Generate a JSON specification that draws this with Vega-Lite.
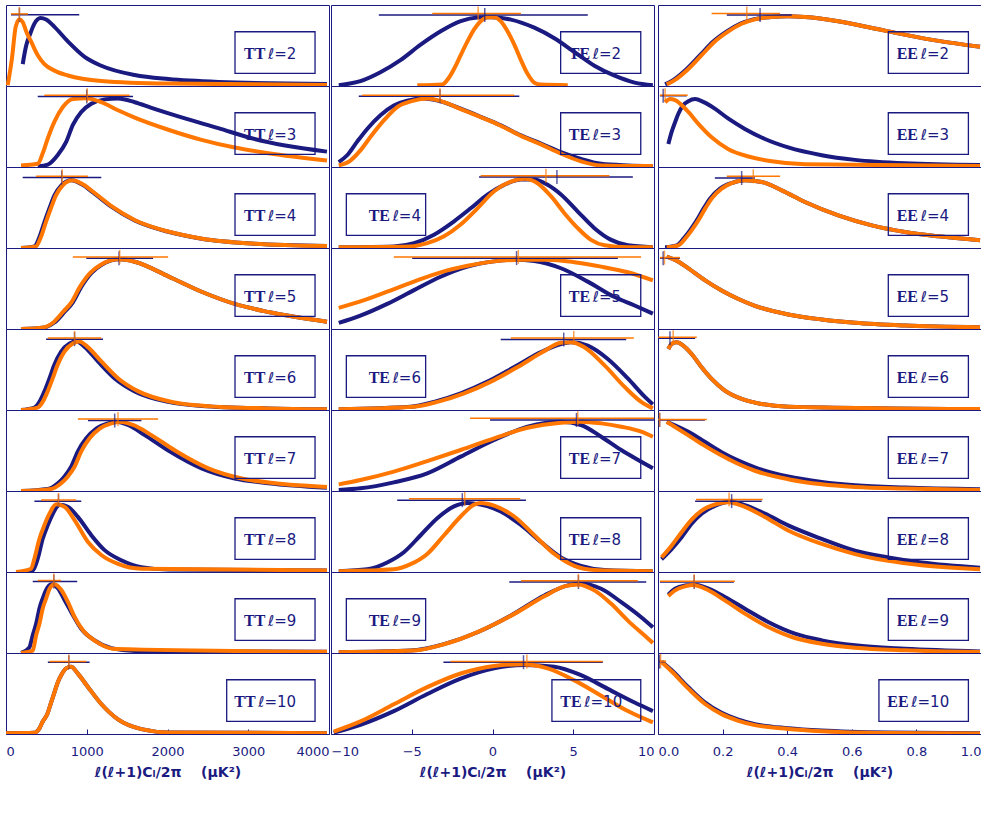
{
"$schema":"https://vega.github.io/schema/vega-lite/v6.json",
"padding":{"top":4,"left":5,"right":5,"bottom":5},
"background":"white",
"config":{"view":{"stroke":"#1a1a80","strokeWidth":1},
"axis":{"labelColor":"#1a1a80","titleColor":"#1a1a80","labelFont":"DejaVu Sans","labelFontSize":13,"titleFont":"DejaVu Sans","titleFontSize":14,"titleFontWeight":"bold","tickColor":"#1a1a80","domain":false,"grid":false,"labelFlush":true,"labelOverlap":false,"labelBound":false},
"facet":{"spacing":0},"concat":{"spacing":0}},
"data":{"values":[
{"k":"L","s":"TT","l":2,"c":"n","x":[207,248,302,352,427,497,600,766,973,1180,1594,2010,2632,3975],"y":[0.27,0.49,0.65,0.77,0.84,0.82,0.73,0.55,0.36,0.25,0.135,0.085,0.05,0.025]},
{"k":"L","s":"TT","l":2,"c":"o","x":[21,75,120,166,207,248,310,393,476,600,766,1180,2010,3975],"y":[0.01,0.35,0.73,0.82,0.79,0.68,0.55,0.38,0.27,0.19,0.13,0.063,0.03,0.013]},
{"k":"L","s":"TT","l":3,"c":"n","x":[393,518,642,745,828,932,1056,1222,1387,1594,1801,2216,2629,3043,3457,3975],"y":[0.01,0.03,0.15,0.31,0.52,0.68,0.78,0.835,0.845,0.8,0.73,0.6,0.48,0.355,0.265,0.19]},
{"k":"L","s":"TT","l":3,"c":"o","x":[186,393,455,518,600,704,828,994,1180,1387,1594,2010,2422,2832,3250,3975],"y":[0.02,0.04,0.17,0.355,0.56,0.74,0.84,0.85,0.8,0.7,0.61,0.46,0.335,0.24,0.17,0.08]},
{"k":"L","s":"TT","l":4,"c":"n","x":[186,352,414,476,538,600,683,807,932,1097,1304,1594,2010,2422,3043,3975],"y":[0,0.02,0.135,0.32,0.49,0.65,0.77,0.835,0.79,0.67,0.51,0.34,0.2,0.115,0.055,0.025]},
{"k":"L","s":"TT","l":4,"c":"o","x":[186,370,432,494,556,618,700,820,945,1110,1315,1605,2020,2430,3050,3975],"y":[0,0.02,0.135,0.32,0.49,0.65,0.77,0.835,0.79,0.67,0.51,0.34,0.2,0.115,0.055,0.025]},
{"k":"L","s":"TT","l":5,"c":"n","x":[186,476,600,725,828,932,1056,1180,1408,1594,2010,2422,2832,3250,3975],"y":[0,0.02,0.08,0.21,0.33,0.52,0.69,0.79,0.86,0.83,0.65,0.46,0.31,0.21,0.09]},
{"k":"L","s":"TT","l":5,"c":"o","x":[186,466,585,705,810,915,1040,1170,1400,1594,2010,2422,2832,3250,3975],"y":[0,0.02,0.08,0.21,0.33,0.52,0.69,0.79,0.86,0.83,0.65,0.46,0.31,0.21,0.09]},
{"k":"L","s":"TT","l":6,"c":"n","x":[186,352,414,476,538,600,683,787,870,973,1139,1346,1594,2010,2422,3250,3975],"y":[0,0.03,0.1,0.23,0.39,0.56,0.72,0.82,0.845,0.78,0.6,0.39,0.23,0.1,0.05,0.02,0.01]},
{"k":"L","s":"TT","l":6,"c":"o","x":[186,392,454,516,578,640,723,827,905,1010,1180,1390,1640,2050,2460,3250,3975],"y":[0,0.03,0.1,0.23,0.39,0.56,0.72,0.82,0.845,0.78,0.6,0.39,0.23,0.1,0.05,0.02,0.01]},
{"k":"L","s":"TT","l":7,"c":"n","x":[186,518,642,725,807,890,994,1118,1263,1366,1511,1718,2010,2422,2832,3250,3975],"y":[0,0.025,0.095,0.18,0.3,0.49,0.65,0.77,0.835,0.855,0.815,0.69,0.5,0.28,0.155,0.095,0.04]},
{"k":"L","s":"TT","l":7,"c":"o","x":[186,560,683,766,849,932,1035,1160,1304,1408,1573,1801,2093,2505,2920,3333,3975],"y":[0,0.025,0.095,0.18,0.3,0.49,0.65,0.77,0.835,0.855,0.815,0.69,0.5,0.28,0.155,0.095,0.05]},
{"k":"L","s":"TT","l":8,"c":"n","x":[186,331,393,455,518,580,663,766,890,1056,1221,1428,1677,2010,3975],"y":[0,0.02,0.165,0.41,0.58,0.72,0.83,0.805,0.68,0.455,0.27,0.145,0.06,0.03,0.02]},
{"k":"L","s":"TT","l":8,"c":"o","x":[124,310,352,414,476,538,621,725,849,1015,1180,1387,1677,3975],"y":[0,0.04,0.165,0.41,0.58,0.72,0.835,0.805,0.64,0.37,0.21,0.1,0.04,0.02]},
{"k":"L","s":"TT","l":9,"c":"n","x":[186,290,331,373,414,455,497,559,642,725,828,932,1097,1304,1594,3975],"y":[0,0.07,0.22,0.36,0.55,0.675,0.78,0.85,0.8,0.655,0.47,0.3,0.155,0.06,0.025,0.015]},
{"k":"L","s":"TT","l":9,"c":"o","x":[186,331,373,414,455,497,538,600,683,766,849,952,1118,1346,3975],"y":[0,0.03,0.22,0.36,0.55,0.675,0.79,0.85,0.78,0.63,0.445,0.28,0.14,0.05,0.015]},
{"k":"L","s":"TT","l":10,"c":"n","x":[0,352,414,455,509,559,600,642,683,745,807,890,1015,1180,1387,1677,2010,3975],"y":[0.01,0.015,0.07,0.155,0.24,0.39,0.515,0.64,0.725,0.81,0.83,0.745,0.58,0.37,0.18,0.06,0.02,0.01]},
{"k":"L","s":"TT","l":10,"c":"o","x":[0,352,414,455,509,559,600,642,683,745,807,890,1015,1180,1387,1677,2010,3975],"y":[0.01,0.015,0.07,0.155,0.24,0.39,0.515,0.64,0.725,0.81,0.83,0.745,0.58,0.37,0.18,0.06,0.02,0.01]},
{"k":"L","s":"TE","l":2,"c":"n","x":[-9.52,-8.18,-6.94,-5.7,-4.45,-3.21,-1.97,-0.93,-0.1,1.14,2.59,3.83,5.07,6.31,7.56,8.8,9.93],"y":[0.01,0.06,0.17,0.32,0.51,0.675,0.8,0.845,0.85,0.82,0.72,0.59,0.42,0.25,0.127,0.042,0.01]},
{"k":"L","s":"TE","l":2,"c":"o","x":[-4.66,-3.11,-2.69,-2.28,-1.97,-1.55,-1.14,-0.73,-0.31,0.1,0.51,0.93,1.35,1.76,2.17,2.59,3.0,4.66],"y":[0.01,0.02,0.105,0.25,0.38,0.55,0.7,0.8,0.85,0.85,0.8,0.675,0.51,0.32,0.15,0.04,0.017,0.01]},
{"k":"L","s":"TE","l":3,"c":"n","x":[-9.52,-9.0,-8.39,-7.76,-6.94,-6.11,-5.28,-4.24,-3.21,-1.97,-0.73,0.51,1.76,3.0,4.24,5.48,6.73,8.38,9.93],"y":[0.06,0.145,0.31,0.47,0.64,0.76,0.82,0.845,0.81,0.72,0.62,0.515,0.39,0.29,0.185,0.1,0.04,0.02,0.012]},
{"k":"L","s":"TE","l":3,"c":"o","x":[-9.52,-8.8,-8.18,-7.56,-6.73,-5.9,-5.07,-4.04,-3.0,-1.97,-0.73,0.51,1.76,3.0,4.24,5.48,6.73,9.93],"y":[0.02,0.08,0.205,0.37,0.575,0.74,0.81,0.845,0.8,0.715,0.615,0.51,0.385,0.28,0.165,0.07,0.02,0.012]},
{"k":"L","s":"TE","l":4,"c":"n","x":[-9.52,-6.11,-4.86,-3.62,-2.38,-1.35,-0.31,0.72,1.76,2.59,3.41,4.24,5.28,6.31,7.35,8.38,9.93],"y":[0.01,0.02,0.06,0.165,0.33,0.49,0.66,0.78,0.845,0.845,0.78,0.66,0.45,0.245,0.1,0.033,0.01]},
{"k":"L","s":"TE","l":4,"c":"o","x":[-9.52,-5.07,-4.04,-3.0,-1.97,-0.93,0.1,1.14,1.97,2.79,3.62,4.45,5.28,6.1,6.94,8.38,9.93],"y":[0.01,0.02,0.06,0.145,0.29,0.49,0.7,0.82,0.855,0.8,0.64,0.43,0.245,0.1,0.033,0.01,0.01]},
{"k":"L","s":"TE","l":5,"c":"n","x":[-9.52,-8.18,-6.52,-4.86,-3.21,-1.55,0.1,1.35,2.59,4.24,5.9,7.56,8.8,9.93],"y":[0.075,0.165,0.31,0.48,0.645,0.77,0.835,0.855,0.84,0.75,0.585,0.395,0.29,0.19]},
{"k":"L","s":"TE","l":5,"c":"o","x":[-9.52,-8.18,-6.52,-4.86,-3.21,-1.55,0.1,1.76,3.41,5.07,6.73,8.38,9.93],"y":[0.26,0.34,0.46,0.585,0.7,0.78,0.835,0.855,0.855,0.825,0.77,0.7,0.6]},
{"k":"L","s":"TE","l":6,"c":"n","x":[-9.52,-5.07,-3.62,-1.97,-0.31,1.35,3.0,4.24,4.86,5.9,7.14,8.38,9.42,9.93],"y":[0.01,0.04,0.1,0.205,0.35,0.53,0.715,0.815,0.835,0.795,0.63,0.39,0.165,0.07]},
{"k":"L","s":"TE","l":6,"c":"o","x":[-9.52,-4.9,-3.41,-1.76,-0.1,1.55,3.1,4.24,4.86,5.69,6.94,8.18,9.21,9.93],"y":[0.01,0.04,0.1,0.205,0.35,0.53,0.715,0.83,0.837,0.775,0.55,0.285,0.1,0.02]},
{"k":"L","s":"TE","l":7,"c":"n","x":[-9.52,-8.18,-6.11,-4.04,-1.97,0.1,2.17,4.24,5.48,6.73,7.97,9.21,9.93],"y":[0.012,0.033,0.107,0.218,0.424,0.63,0.794,0.856,0.815,0.67,0.506,0.362,0.28]},
{"k":"L","s":"TE","l":7,"c":"o","x":[-9.52,-8.18,-6.11,-4.04,-1.97,0.1,2.17,4.24,5.48,6.73,7.97,9.21,9.93],"y":[0.082,0.136,0.24,0.37,0.506,0.65,0.78,0.844,0.856,0.835,0.794,0.733,0.67]},
{"k":"L","s":"TE","l":8,"c":"n","x":[-9.52,-7.76,-6.52,-5.49,-4.45,-3.42,-2.38,-1.55,-0.73,0.51,1.76,3.0,4.24,5.48,6.94,9.93],"y":[0.01,0.034,0.118,0.244,0.454,0.664,0.81,0.853,0.832,0.748,0.58,0.37,0.18,0.076,0.025,0.01]},
{"k":"L","s":"TE","l":8,"c":"o","x":[-9.52,-6.11,-5.07,-4.04,-3.0,-1.97,-1.14,-0.73,0.1,1.35,2.59,3.83,5.07,6.31,9.93],"y":[0.01,0.034,0.097,0.223,0.454,0.685,0.832,0.853,0.82,0.685,0.454,0.223,0.076,0.025,0.01]},
{"k":"L","s":"TE","l":9,"c":"n","x":[-9.52,-5.07,-3.0,-0.93,1.14,3.21,4.66,5.48,6.73,7.97,9.21,9.93],"y":[0.01,0.03,0.11,0.256,0.463,0.71,0.835,0.855,0.793,0.628,0.442,0.318]},
{"k":"L","s":"TE","l":9,"c":"o","x":[-9.52,-4.9,-2.79,-0.72,1.35,3.21,4.45,5.28,6.31,7.35,8.38,9.42,9.93],"y":[0.01,0.03,0.12,0.277,0.483,0.7,0.822,0.847,0.773,0.607,0.4,0.215,0.124]},
{"k":"L","s":"TE","l":10,"c":"n","x":[-9.83,-8.18,-6.11,-4.04,-1.97,0.1,1.97,3.83,5.48,7.14,8.8,9.93],"y":[0.017,0.114,0.283,0.494,0.684,0.81,0.852,0.831,0.726,0.557,0.388,0.283]},
{"k":"L","s":"TE","l":10,"c":"o","x":[-9.83,-8.18,-6.11,-4.04,-1.97,0.1,1.76,3.41,5.07,6.73,8.38,9.93],"y":[0.03,0.156,0.367,0.578,0.747,0.84,0.861,0.81,0.662,0.473,0.283,0.143]},
{"k":"L","s":"EE","l":2,"c":"n","x":[0.022,0.048,0.089,0.13,0.171,0.213,0.254,0.295,0.352,0.403,0.455,0.558,0.662,0.765,0.868,0.997],"y":[0.02,0.076,0.21,0.38,0.55,0.675,0.768,0.823,0.852,0.861,0.852,0.8,0.717,0.633,0.557,0.485]},
{"k":"L","s":"EE","l":2,"c":"o","x":[0.027,0.053,0.094,0.135,0.176,0.218,0.259,0.3,0.352,0.403,0.455,0.558,0.662,0.765,0.868,0.997],"y":[0.02,0.076,0.21,0.38,0.55,0.675,0.768,0.823,0.852,0.861,0.852,0.8,0.717,0.633,0.557,0.485]},
{"k":"L","s":"EE","l":3,"c":"n","x":[0.032,0.042,0.053,0.063,0.078,0.094,0.115,0.14,0.176,0.218,0.269,0.331,0.403,0.507,0.61,0.765,0.997],"y":[0.283,0.43,0.554,0.658,0.763,0.813,0.838,0.804,0.72,0.596,0.47,0.346,0.242,0.146,0.088,0.046,0.025]},
{"k":"L","s":"EE","l":3,"c":"o","x":[0.022,0.037,0.053,0.068,0.094,0.125,0.166,0.218,0.28,0.352,0.455,0.997],"y":[0.8,0.838,0.825,0.783,0.68,0.533,0.367,0.22,0.13,0.07,0.033,0.0125]},
{"k":"L","s":"EE","l":4,"c":"n","x":[0.022,0.058,0.079,0.099,0.12,0.141,0.161,0.192,0.228,0.269,0.321,0.383,0.455,0.558,0.662,0.765,0.868,0.997],"y":[0.008,0.033,0.115,0.218,0.342,0.486,0.609,0.733,0.802,0.835,0.815,0.712,0.568,0.403,0.28,0.198,0.144,0.095]},
{"k":"L","s":"EE","l":4,"c":"o","x":[0.027,0.063,0.084,0.104,0.125,0.146,0.166,0.197,0.228,0.269,0.321,0.383,0.455,0.558,0.662,0.765,0.868,0.997],"y":[0.008,0.033,0.115,0.218,0.342,0.486,0.609,0.733,0.802,0.835,0.815,0.712,0.568,0.403,0.28,0.198,0.144,0.095]},
{"k":"L","s":"EE","l":5,"c":"n","x":[0.027,0.053,0.094,0.146,0.197,0.249,0.3,0.403,0.507,0.61,0.765,0.997],"y":[0.895,0.853,0.748,0.6,0.475,0.37,0.286,0.18,0.118,0.076,0.042,0.021]},
{"k":"L","s":"EE","l":5,"c":"o","x":[0.027,0.053,0.094,0.146,0.197,0.249,0.3,0.403,0.507,0.61,0.765,0.997],"y":[0.895,0.853,0.748,0.6,0.475,0.37,0.286,0.18,0.118,0.076,0.042,0.021]},
{"k":"L","s":"EE","l":6,"c":"n","x":[0.032,0.042,0.058,0.078,0.104,0.135,0.166,0.207,0.259,0.321,0.403,0.997],"y":[0.753,0.815,0.835,0.794,0.691,0.527,0.383,0.239,0.136,0.074,0.041,0.012]},
{"k":"L","s":"EE","l":6,"c":"o","x":[0.032,0.042,0.058,0.078,0.104,0.135,0.166,0.207,0.259,0.321,0.403,0.997],"y":[0.753,0.815,0.835,0.794,0.691,0.527,0.383,0.239,0.136,0.074,0.041,0.012]},
{"k":"L","s":"EE","l":7,"c":"n","x":[0.027,0.094,0.146,0.197,0.249,0.3,0.403,0.507,0.61,0.765,0.997],"y":[0.854,0.73,0.604,0.479,0.375,0.292,0.179,0.1125,0.071,0.042,0.021]},
{"k":"L","s":"EE","l":7,"c":"o","x":[0.027,0.094,0.146,0.197,0.249,0.3,0.403,0.507,0.61,0.765,0.997],"y":[0.854,0.687,0.554,0.4375,0.333,0.25,0.146,0.083,0.05,0.03,0.0125]},
{"k":"L","s":"EE","l":8,"c":"n","x":[0.011,0.042,0.073,0.104,0.135,0.176,0.223,0.269,0.331,0.403,0.507,0.61,0.713,0.816,0.997],"y":[0.158,0.283,0.429,0.596,0.72,0.817,0.867,0.825,0.72,0.575,0.408,0.2625,0.179,0.117,0.054]},
{"k":"L","s":"EE","l":8,"c":"o","x":[0.011,0.042,0.073,0.104,0.135,0.176,0.218,0.269,0.331,0.403,0.507,0.61,0.713,0.816,0.997],"y":[0.18,0.325,0.49,0.646,0.758,0.833,0.862,0.804,0.679,0.5125,0.346,0.221,0.1375,0.083,0.033]},
{"k":"L","s":"EE","l":9,"c":"n","x":[0.032,0.053,0.084,0.115,0.156,0.207,0.269,0.341,0.424,0.507,0.61,0.765,0.997],"y":[0.72,0.794,0.835,0.844,0.794,0.691,0.547,0.383,0.239,0.156,0.095,0.053,0.02]},
{"k":"L","s":"EE","l":9,"c":"o","x":[0.032,0.053,0.084,0.108,0.156,0.207,0.269,0.341,0.424,0.507,0.61,0.765,0.997],"y":[0.704,0.774,0.823,0.84,0.774,0.65,0.486,0.321,0.185,0.115,0.066,0.033,0.012]},
{"k":"L","s":"EE","l":10,"c":"n","x":[0.011,0.042,0.094,0.146,0.197,0.249,0.3,0.403,0.507,0.713,0.997],"y":[0.895,0.789,0.578,0.388,0.262,0.177,0.122,0.072,0.042,0.017,0.008]},
{"k":"L","s":"EE","l":10,"c":"o","x":[0.011,0.042,0.094,0.146,0.197,0.249,0.3,0.403,0.507,0.713,0.997],"y":[0.89,0.775,0.56,0.37,0.245,0.163,0.11,0.063,0.035,0.012,0.005]},
{"k":"C","s":"TT","l":2,"c":"n","lo":62,"hi":907,"m":166,"y":0.88},
{"k":"C","s":"TT","l":2,"c":"o","lo":62,"hi":273,"m":166,"y":0.89},
{"k":"C","s":"TT","l":3,"c":"n","lo":393,"hi":1573,"m":1000,"y":0.87},
{"k":"C","s":"TT","l":3,"c":"o","lo":474,"hi":1530,"m":1006,"y":0.885},
{"k":"C","s":"TT","l":4,"c":"n","lo":207,"hi":1180,"m":690,"y":0.87},
{"k":"C","s":"TT","l":4,"c":"o","lo":373,"hi":1015,"m":696,"y":0.885},
{"k":"C","s":"TT","l":5,"c":"n","lo":994,"hi":1822,"m":1400,"y":0.875},
{"k":"C","s":"TT","l":5,"c":"o","lo":828,"hi":2008,"m":1408,"y":0.89},
{"k":"C","s":"TT","l":6,"c":"n","lo":497,"hi":1201,"m":849,"y":0.875},
{"k":"C","s":"TT","l":6,"c":"o","lo":518,"hi":1180,"m":849,"y":0.89},
{"k":"C","s":"TT","l":7,"c":"n","lo":1015,"hi":1677,"m":1346,"y":0.87},
{"k":"C","s":"TT","l":7,"c":"o","lo":890,"hi":1884,"m":1387,"y":0.89},
{"k":"C","s":"TT","l":8,"c":"n","lo":352,"hi":932,"m":650,"y":0.875},
{"k":"C","s":"TT","l":8,"c":"o","lo":435,"hi":870,"m":650,"y":0.89},
{"k":"C","s":"TT","l":9,"c":"n","lo":331,"hi":882,"m":592,"y":0.883},
{"k":"C","s":"TT","l":9,"c":"o","lo":393,"hi":683,"m":592,"y":0.895},
{"k":"C","s":"TT","l":10,"c":"n","lo":518,"hi":1035,"m":778,"y":0.886},
{"k":"C","s":"TT","l":10,"c":"o","lo":538,"hi":994,"m":778,"y":0.895},
{"k":"C","s":"TE","l":2,"c":"n","lo":-7.04,"hi":5.9,"m":-0.48,"y":0.877},
{"k":"C","s":"TE","l":2,"c":"o","lo":-3.73,"hi":1.76,"m":-0.89,"y":0.895},
{"k":"C","s":"TE","l":3,"c":"n","lo":-8.28,"hi":1.66,"m":-3.25,"y":0.872},
{"k":"C","s":"TE","l":3,"c":"o","lo":-8.07,"hi":1.35,"m":-3.25,"y":0.885},
{"k":"C","s":"TE","l":4,"c":"n","lo":-0.83,"hi":8.69,"m":3.99,"y":0.877},
{"k":"C","s":"TE","l":4,"c":"o","lo":-0.73,"hi":7.24,"m":3.31,"y":0.893},
{"k":"C","s":"TE","l":5,"c":"n","lo":-4.97,"hi":7.76,"m":1.49,"y":0.875},
{"k":"C","s":"TE","l":5,"c":"o","lo":-6.11,"hi":9.2,"m":1.6,"y":0.89},
{"k":"C","s":"TE","l":6,"c":"n","lo":0.51,"hi":8.28,"m":4.41,"y":0.87},
{"k":"C","s":"TE","l":6,"c":"o","lo":1.14,"hi":8.75,"m":5.03,"y":0.89},
{"k":"C","s":"TE","l":7,"c":"n","lo":-0.15,"hi":10,"m":5.2,"y":0.877},
{"k":"C","s":"TE","l":7,"c":"o","lo":-1.39,"hi":10,"m":5.28,"y":0.897},
{"k":"C","s":"TE","l":8,"c":"n","lo":-5.9,"hi":2.07,"m":-1.87,"y":0.887},
{"k":"C","s":"TE","l":8,"c":"o","lo":-5.17,"hi":1.72,"m":-1.72,"y":0.903},
{"k":"C","s":"TE","l":9,"c":"n","lo":1.04,"hi":9.52,"m":5.32,"y":0.876},
{"k":"C","s":"TE","l":9,"c":"o","lo":1.76,"hi":9.0,"m":5.32,"y":0.893},
{"k":"C","s":"TE","l":10,"c":"n","lo":-3.04,"hi":6.83,"m":1.92,"y":0.886},
{"k":"C","s":"TE","l":10,"c":"o","lo":-2.59,"hi":6.83,"m":2.13,"y":0.895},
{"k":"C","s":"EE","l":2,"c":"n","lo":0.213,"hi":0.414,"m":0.316,"y":0.878},
{"k":"C","s":"EE","l":2,"c":"o","lo":0.166,"hi":0.378,"m":0.275,"y":0.895},
{"k":"C","s":"EE","l":3,"c":"n","lo":0.006,"hi":0.089,"m":0.016,"y":0.88},
{"k":"C","s":"EE","l":3,"c":"o","lo":0.006,"hi":0.092,"m":0.022,"y":0.887},
{"k":"C","s":"EE","l":4,"c":"n","lo":0.176,"hi":0.3,"m":0.259,"y":0.864},
{"k":"C","s":"EE","l":4,"c":"o","lo":0.213,"hi":0.378,"m":0.295,"y":0.885},
{"k":"C","s":"EE","l":5,"c":"n","lo":0.006,"hi":0.068,"m":0.016,"y":0.875},
{"k":"C","s":"EE","l":5,"c":"o","lo":0.006,"hi":0.068,"m":0.02,"y":0.882},
{"k":"C","s":"EE","l":6,"c":"n","lo":0.001,"hi":0.115,"m":0.037,"y":0.885},
{"k":"C","s":"EE","l":6,"c":"o","lo":0.001,"hi":0.12,"m":0.047,"y":0.897},
{"k":"C","s":"EE","l":7,"c":"n","lo":0,"hi":0.145,"m":0.005,"y":0.877},
{"k":"C","s":"EE","l":7,"c":"o","lo":0,"hi":0.151,"m":0.005,"y":0.883},
{"k":"C","s":"EE","l":8,"c":"n","lo":0.115,"hi":0.321,"m":0.228,"y":0.875},
{"k":"C","s":"EE","l":8,"c":"o","lo":0.118,"hi":0.324,"m":0.22,"y":0.896},
{"k":"C","s":"EE","l":9,"c":"n","lo":0.006,"hi":0.235,"m":0.112,"y":0.877},
{"k":"C","s":"EE","l":9,"c":"o","lo":0.006,"hi":0.238,"m":0.112,"y":0.885},
{"k":"C","s":"EE","l":10,"c":"n","lo":0.003,"hi":0.02,"m":0.005,"y":0.893},
{"k":"C","s":"EE","l":10,"c":"o","lo":0.003,"hi":0.025,"m":0.008,"y":0.9},
{"k":"B","s":"TT","l":2,"x1":2836,"x2":3827,"tx":2947,"t":"ℓ=2"},
{"k":"B","s":"TT","l":3,"x1":2836,"x2":3827,"tx":2947,"t":"ℓ=3"},
{"k":"B","s":"TT","l":4,"x1":2836,"x2":3827,"tx":2947,"t":"ℓ=4"},
{"k":"B","s":"TT","l":5,"x1":2836,"x2":3827,"tx":2947,"t":"ℓ=5"},
{"k":"B","s":"TT","l":6,"x1":2836,"x2":3827,"tx":2947,"t":"ℓ=6"},
{"k":"B","s":"TT","l":7,"x1":2836,"x2":3827,"tx":2947,"t":"ℓ=7"},
{"k":"B","s":"TT","l":8,"x1":2836,"x2":3827,"tx":2947,"t":"ℓ=8"},
{"k":"B","s":"TT","l":9,"x1":2836,"x2":3827,"tx":2947,"t":"ℓ=9"},
{"k":"B","s":"TT","l":10,"x1":2733,"x2":3827,"tx":2827,"t":"ℓ=10"},
{"k":"B","s":"TE","l":2,"x1":4.22,"x2":9.18,"tx":4.72,"t":"ℓ=2"},
{"k":"B","s":"TE","l":3,"x1":4.22,"x2":9.18,"tx":4.72,"t":"ℓ=3"},
{"k":"B","s":"TE","l":4,"x1":-9.05,"x2":-4.14,"tx":-7.67,"t":"ℓ=4"},
{"k":"B","s":"TE","l":5,"x1":4.22,"x2":9.18,"tx":4.72,"t":"ℓ=5"},
{"k":"B","s":"TE","l":6,"x1":-9.05,"x2":-4.14,"tx":-7.67,"t":"ℓ=6"},
{"k":"B","s":"TE","l":7,"x1":4.22,"x2":9.18,"tx":4.72,"t":"ℓ=7"},
{"k":"B","s":"TE","l":8,"x1":4.22,"x2":9.18,"tx":4.72,"t":"ℓ=8"},
{"k":"B","s":"TE","l":9,"x1":-9.05,"x2":-4.14,"tx":-7.67,"t":"ℓ=9"},
{"k":"B","s":"TE","l":10,"x1":3.68,"x2":9.18,"tx":4.2,"t":"ℓ=10"},
{"k":"B","s":"EE","l":2,"x1":0.713,"x2":0.961,"tx":0.739,"t":"ℓ=2"},
{"k":"B","s":"EE","l":3,"x1":0.713,"x2":0.961,"tx":0.739,"t":"ℓ=3"},
{"k":"B","s":"EE","l":4,"x1":0.713,"x2":0.961,"tx":0.739,"t":"ℓ=4"},
{"k":"B","s":"EE","l":5,"x1":0.713,"x2":0.961,"tx":0.739,"t":"ℓ=5"},
{"k":"B","s":"EE","l":6,"x1":0.713,"x2":0.961,"tx":0.739,"t":"ℓ=6"},
{"k":"B","s":"EE","l":7,"x1":0.713,"x2":0.961,"tx":0.739,"t":"ℓ=7"},
{"k":"B","s":"EE","l":8,"x1":0.713,"x2":0.961,"tx":0.739,"t":"ℓ=8"},
{"k":"B","s":"EE","l":9,"x1":0.713,"x2":0.961,"tx":0.739,"t":"ℓ=9"},
{"k":"B","s":"EE","l":10,"x1":0.684,"x2":0.961,"tx":0.71,"t":"ℓ=10"}
]},
"spacing":0,
"hconcat":[
{"transform":[{"filter":"datum.s=='TT'"}],
"bounds":"flush",
"facet":{"row":{"field":"l","type":"ordinal","title":null,"header":{"labels":false}}},
"spacing":0,
"spec":{"width":323,"height":81,
"layer":[
{"transform":[{"filter":"datum.k=='L'&&datum.c=='n'"},{"flatten":["x","y"]}],"mark":{"type":"line","color":"#1a1a80","strokeWidth":4,"interpolate":"monotone","clip":true},
"encoding":{"x":{"field":"x","type":"quantitative","scale":{"domain":[0,4000],"nice":false,"zero":false},"title":"ℓ(ℓ+1)Cₗ/2π\u00a0\u00a0\u00a0\u00a0(μK²)","axis":{"values":[0,1000,2000,3000,4000],"format":"d","tickSize":-5,"labelPadding":16,"titlePadding":7}},
"y":{"field":"y","type":"quantitative","scale":{"domain":[0,1],"nice":false},"title":null,"axis":null}}},
{"transform":[{"filter":"datum.k=='L'&&datum.c=='o'"},{"flatten":["x","y"]}],"mark":{"type":"line","color":"#ff7700","strokeWidth":4,"interpolate":"monotone","clip":true},
"encoding":{"x":{"field":"x","type":"quantitative"},"y":{"field":"y","type":"quantitative","axis":null}}},
{"transform":[{"filter":"datum.k=='C'&&datum.c=='n'"}],"mark":{"type":"rule","color":"#1a1a80","strokeWidth":1.5},"encoding":{"x":{"field":"lo","type":"quantitative"},"x2":{"field":"hi"},"y":{"field":"y","type":"quantitative","axis":null}}},
{"transform":[{"filter":"datum.k=='C'&&datum.c=='o'"}],"mark":{"type":"rule","color":"#ff7700","strokeWidth":1.5},"encoding":{"x":{"field":"lo","type":"quantitative"},"x2":{"field":"hi"},"y":{"field":"y","type":"quantitative","axis":null}}},
{"transform":[{"filter":"datum.k=='C'&&datum.c=='n'"}],"mark":{"type":"tick","orient":"vertical","color":"#1a1a80","size":14,"thickness":1.5},"encoding":{"x":{"field":"m","type":"quantitative"},"y":{"field":"y","type":"quantitative","axis":null}}},
{"transform":[{"filter":"datum.k=='C'&&datum.c=='o'"}],"mark":{"type":"tick","orient":"vertical","color":"#ff7700","size":14,"thickness":1.5},"encoding":{"x":{"field":"m","type":"quantitative"},"y":{"field":"y","type":"quantitative","axis":null}}},
{"transform":[{"filter":"datum.k=='B'"}],"mark":{"type":"rect","filled":false,"stroke":"#1a1a80","strokeWidth":1.3},"encoding":{"x":{"field":"x1","type":"quantitative"},"x2":{"field":"x2"},"y":{"datum":0.155,"type":"quantitative","axis":null},"y2":{"datum":0.67}}},
{"transform":[{"filter":"datum.k=='B'"}],"mark":{"type":"text","align":"left","baseline":"middle","font":"Liberation Serif","fontWeight":"bold","fontSize":16,"color":"#1a1a80"},"encoding":{"x":{"field":"tx","type":"quantitative"},"y":{"datum":0.39,"type":"quantitative","axis":null},"text":{"field":"s"}}},
{"transform":[{"filter":"datum.k=='B'"}],"mark":{"type":"text","align":"left","baseline":"middle","font":"DejaVu Sans","fontSize":15,"dx":24,"color":"#1a1a80"},"encoding":{"x":{"field":"tx","type":"quantitative"},"y":{"datum":0.39,"type":"quantitative","axis":null},"text":{"field":"t"}}}
]}},
{"transform":[{"filter":"datum.s=='TE'"}],
"bounds":"flush",
"facet":{"row":{"field":"l","type":"ordinal","title":null,"header":{"labels":false}}},
"spacing":0,
"spec":{"width":323,"height":81,
"layer":[
{"transform":[{"filter":"datum.k=='L'&&datum.c=='n'"},{"flatten":["x","y"]}],"mark":{"type":"line","color":"#1a1a80","strokeWidth":4,"interpolate":"monotone","clip":true},
"encoding":{"x":{"field":"x","type":"quantitative","scale":{"domain":[-10,10],"nice":false,"zero":false},"title":"ℓ(ℓ+1)Cₗ/2π\u00a0\u00a0\u00a0\u00a0(μK²)","axis":{"values":[-10,-5,0,5,10],"format":"d","tickSize":-5,"labelPadding":16,"titlePadding":7}},
"y":{"field":"y","type":"quantitative","scale":{"domain":[0,1],"nice":false},"title":null,"axis":null}}},
{"transform":[{"filter":"datum.k=='L'&&datum.c=='o'"},{"flatten":["x","y"]}],"mark":{"type":"line","color":"#ff7700","strokeWidth":4,"interpolate":"monotone","clip":true},
"encoding":{"x":{"field":"x","type":"quantitative"},"y":{"field":"y","type":"quantitative","axis":null}}},
{"transform":[{"filter":"datum.k=='C'&&datum.c=='n'"}],"mark":{"type":"rule","color":"#1a1a80","strokeWidth":1.5},"encoding":{"x":{"field":"lo","type":"quantitative"},"x2":{"field":"hi"},"y":{"field":"y","type":"quantitative","axis":null}}},
{"transform":[{"filter":"datum.k=='C'&&datum.c=='o'"}],"mark":{"type":"rule","color":"#ff7700","strokeWidth":1.5},"encoding":{"x":{"field":"lo","type":"quantitative"},"x2":{"field":"hi"},"y":{"field":"y","type":"quantitative","axis":null}}},
{"transform":[{"filter":"datum.k=='C'&&datum.c=='n'"}],"mark":{"type":"tick","orient":"vertical","color":"#1a1a80","size":14,"thickness":1.5},"encoding":{"x":{"field":"m","type":"quantitative"},"y":{"field":"y","type":"quantitative","axis":null}}},
{"transform":[{"filter":"datum.k=='C'&&datum.c=='o'"}],"mark":{"type":"tick","orient":"vertical","color":"#ff7700","size":14,"thickness":1.5},"encoding":{"x":{"field":"m","type":"quantitative"},"y":{"field":"y","type":"quantitative","axis":null}}},
{"transform":[{"filter":"datum.k=='B'"}],"mark":{"type":"rect","filled":false,"stroke":"#1a1a80","strokeWidth":1.3},"encoding":{"x":{"field":"x1","type":"quantitative"},"x2":{"field":"x2"},"y":{"datum":0.155,"type":"quantitative","axis":null},"y2":{"datum":0.67}}},
{"transform":[{"filter":"datum.k=='B'"}],"mark":{"type":"text","align":"left","baseline":"middle","font":"Liberation Serif","fontWeight":"bold","fontSize":16,"color":"#1a1a80"},"encoding":{"x":{"field":"tx","type":"quantitative"},"y":{"datum":0.39,"type":"quantitative","axis":null},"text":{"field":"s"}}},
{"transform":[{"filter":"datum.k=='B'"}],"mark":{"type":"text","align":"left","baseline":"middle","font":"DejaVu Sans","fontSize":15,"dx":24,"color":"#1a1a80"},"encoding":{"x":{"field":"tx","type":"quantitative"},"y":{"datum":0.39,"type":"quantitative","axis":null},"text":{"field":"t"}}}
]}},
{"transform":[{"filter":"datum.s=='EE'"}],
"bounds":"flush",
"facet":{"row":{"field":"l","type":"ordinal","title":null,"header":{"labels":false}}},
"spacing":0,
"spec":{"width":323,"height":81,
"layer":[
{"transform":[{"filter":"datum.k=='L'&&datum.c=='n'"},{"flatten":["x","y"]}],"mark":{"type":"line","color":"#1a1a80","strokeWidth":4,"interpolate":"monotone","clip":true},
"encoding":{"x":{"field":"x","type":"quantitative","scale":{"domain":[0,1],"nice":false,"zero":false},"title":"ℓ(ℓ+1)Cₗ/2π\u00a0\u00a0\u00a0\u00a0(μK²)","axis":{"values":[0,0.2,0.4,0.6,0.8,1],"format":".1f","tickSize":-5,"labelPadding":16,"titlePadding":7}},
"y":{"field":"y","type":"quantitative","scale":{"domain":[0,1],"nice":false},"title":null,"axis":null}}},
{"transform":[{"filter":"datum.k=='L'&&datum.c=='o'"},{"flatten":["x","y"]}],"mark":{"type":"line","color":"#ff7700","strokeWidth":4,"interpolate":"monotone","clip":true},
"encoding":{"x":{"field":"x","type":"quantitative"},"y":{"field":"y","type":"quantitative","axis":null}}},
{"transform":[{"filter":"datum.k=='C'&&datum.c=='n'"}],"mark":{"type":"rule","color":"#1a1a80","strokeWidth":1.5},"encoding":{"x":{"field":"lo","type":"quantitative"},"x2":{"field":"hi"},"y":{"field":"y","type":"quantitative","axis":null}}},
{"transform":[{"filter":"datum.k=='C'&&datum.c=='o'"}],"mark":{"type":"rule","color":"#ff7700","strokeWidth":1.5},"encoding":{"x":{"field":"lo","type":"quantitative"},"x2":{"field":"hi"},"y":{"field":"y","type":"quantitative","axis":null}}},
{"transform":[{"filter":"datum.k=='C'&&datum.c=='n'"}],"mark":{"type":"tick","orient":"vertical","color":"#1a1a80","size":14,"thickness":1.5},"encoding":{"x":{"field":"m","type":"quantitative"},"y":{"field":"y","type":"quantitative","axis":null}}},
{"transform":[{"filter":"datum.k=='C'&&datum.c=='o'"}],"mark":{"type":"tick","orient":"vertical","color":"#ff7700","size":14,"thickness":1.5},"encoding":{"x":{"field":"m","type":"quantitative"},"y":{"field":"y","type":"quantitative","axis":null}}},
{"transform":[{"filter":"datum.k=='B'"}],"mark":{"type":"rect","filled":false,"stroke":"#1a1a80","strokeWidth":1.3},"encoding":{"x":{"field":"x1","type":"quantitative"},"x2":{"field":"x2"},"y":{"datum":0.155,"type":"quantitative","axis":null},"y2":{"datum":0.67}}},
{"transform":[{"filter":"datum.k=='B'"}],"mark":{"type":"text","align":"left","baseline":"middle","font":"Liberation Serif","fontWeight":"bold","fontSize":16,"color":"#1a1a80"},"encoding":{"x":{"field":"tx","type":"quantitative"},"y":{"datum":0.39,"type":"quantitative","axis":null},"text":{"field":"s"}}},
{"transform":[{"filter":"datum.k=='B'"}],"mark":{"type":"text","align":"left","baseline":"middle","font":"DejaVu Sans","fontSize":15,"dx":24,"color":"#1a1a80"},"encoding":{"x":{"field":"tx","type":"quantitative"},"y":{"datum":0.39,"type":"quantitative","axis":null},"text":{"field":"t"}}}
]}}
]
}
